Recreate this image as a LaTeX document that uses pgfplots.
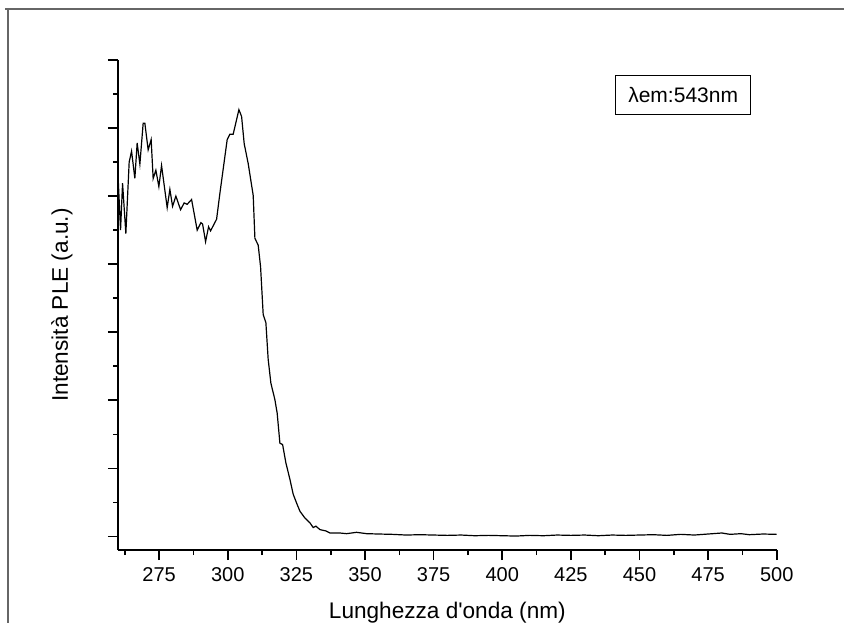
\documentclass[border=0pt]{standalone}
\usepackage{pgfplots}
\pgfplotsset{compat=1.18}
\usepackage{fontspec}
\setmainfont{Liberation Sans}
\pgfplotstableread{
x y
260.06 5.26
260.93 4.50
261.66 5.19
262.86 4.45
264.07 5.50
264.94 5.66
266.14 5.26
266.98 5.78
267.97 5.47
269.17 6.07
269.79 6.07
270.99 5.68
272.08 5.83
272.81 5.26
273.80 5.38
274.89 5.14
275.87 5.45
277.92 4.83
278.90 5.10
279.88 4.85
281.09 5.00
282.80 4.80
284.11 4.90
285.20 4.88
286.81 4.95
288.85 4.50
290.20 4.61
290.82 4.59
291.91 4.33
293.00 4.55
293.73 4.49
295.92 4.66
297.12 5.04
299.78 5.83
300.77 5.91
301.97 5.91
304.05 6.27
305.03 6.17
305.98 5.77
307.43 5.48
309.26 5.01
309.88 4.38
311.08 4.28
311.95 3.96
312.90 3.26
313.88 3.14
314.72 2.60
315.71 2.25
317.16 2.01
318.00 1.81
318.99 1.37
319.97 1.35
321.17 1.08
322.63 0.84
323.83 0.62
325.07 0.49
326.28 0.37
328.10 0.27
329.92 0.20
331.12 0.13
332.11 0.15
333.57 0.10
335.75 0.08
337.21 0.05
340.86 0.05
343.3 0.04
346.9 0.06
350.6 0.04
355 0.035
360 0.03
365 0.02
370 0.025
375 0.02
380 0.015
385 0.02
390 0.01
395 0.015
400 0.01
405 0.005
410 0.015
415 0.01
420 0.02
425 0.015
430 0.02
435 0.01
440 0.02
445 0.015
450 0.02
455 0.025
460 0.015
465 0.03
470 0.02
475 0.035
480 0.05
483 0.03
487 0.04
490 0.025
495 0.035
500 0.03
}\pledata
\begin{document}
\begin{tikzpicture}
\useasboundingbox (0,0) rectangle (422pt,311pt);
\draw[gray!80!black, line width=1pt] (2.5pt,306.3pt) -- (422pt,306.3pt);
\draw[gray!80!black, line width=1pt] (4pt,306.3pt) -- (4pt,-5pt);
\begin{axis}[
  at={(59pt,36pt)}, anchor=south west,
  scale only axis, width=329.35pt, height=245pt,
  xmin=260, xmax=500, ymin=-0.2, ymax=7,
  axis x line*=bottom, axis y line*=left,
  axis line style={line width=1pt, black},
  xtick={275,300,...,500},
  minor xtick={262.5,287.5,...,487.5},
  ytick={0,1,...,7},
  minor ytick={0.5,1.5,...,6.5},
  yticklabels={},
  tick align=outside,
  major tick length=5pt, minor tick length=2.5pt,
  every tick/.style={black, line width=0.8pt},
  /pgf/number format/assume math mode=true,
  tick label style={font=\fontsize{10}{12}\selectfont},
  xticklabel style={anchor=center, yshift=-7.5pt},
  xlabel={Lunghezza d\textquotesingle onda (nm)},
  ylabel={Intensità PLE (a.u.)},
  label style={font=\fontsize{11.3}{13}\selectfont},
  xlabel style={at={(axis description cs:0.5,-0.128)}, anchor=center},
  ylabel style={at={(axis description cs:-0.085,0.5)}, anchor=center},
  clip=false,
]
\addplot[black, line width=0.6pt] table[x=x, y=y] {\pledata};
\node[draw, line width=0.5pt, minimum width=67.35pt, minimum height=19.65pt, inner sep=0pt,
  font=\fontsize{10.5}{12}\selectfont] at (axis description cs:0.858,0.929) {λem:543nm};
\end{axis}
\end{tikzpicture}
\end{document}
